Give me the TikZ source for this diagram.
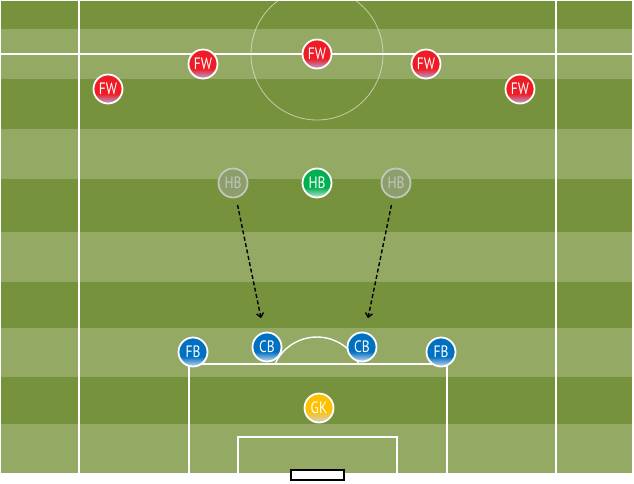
\documentclass[tikz,border=0pt]{standalone}
\usepackage{fontspec}
\newfontfamily\kitfont[FakeStretch=0.82]{PT Sans}
\usetikzlibrary{arrows.meta}

\definecolor{pitchdark}{HTML}{77923C}
\definecolor{pitchlight}{HTML}{93A964}
\definecolor{fwred}{HTML}{EE1C25}
\definecolor{fwlow}{HTML}{B4A6D6}
\definecolor{bkblue}{HTML}{0070C0}
\definecolor{bklow}{HTML}{C6D9F1}
\definecolor{hbgreen}{HTML}{00B050}
\definecolor{hblow}{HTML}{BFE6D6}
\definecolor{gkgold}{HTML}{FFC000}
\definecolor{gklow}{HTML}{D0D0D0}
\definecolor{ghostfill}{HTML}{8C9E6C}
\definecolor{ghostline}{HTML}{C3C7BA}

\pgfdeclareverticalshading{fwshade}{100bp}{color(0bp)=(fwlow); color(25bp)=(fwlow); color(42bp)=(fwred); color(100bp)=(fwred)}
\pgfdeclareverticalshading{bkshade}{100bp}{color(0bp)=(bklow); color(25bp)=(bklow); color(42bp)=(bkblue); color(100bp)=(bkblue)}
\pgfdeclareverticalshading{hbshade}{100bp}{color(0bp)=(hblow); color(25bp)=(hblow); color(42bp)=(hbgreen); color(100bp)=(hbgreen)}
\pgfdeclareverticalshading{gkshade}{100bp}{color(0bp)=(gklow); color(25bp)=(gklow); color(45bp)=(gkgold); color(100bp)=(gkgold)}

\tikzset{
  player/.style={circle,draw=white,line width=1.8pt,minimum size=29pt,inner sep=0pt,
    text=white,font=\kitfont\fontsize{16.5}{16.5}\selectfont},
  fw/.style={player,shade,shading=fwshade},
  bk/.style={player,shade,shading=bkshade},
  hb/.style={player,shade,shading=hbshade},
  gk/.style={player,shade,shading=gkshade},
  ghost/.style={player,fill=ghostfill,draw=ghostline,text=ghostline},
  pitchline/.style={white,line width=1.4pt},
  runline/.style={line width=1.4pt,dash pattern=on 4pt off 2.5pt,-{Straight Barb[length=4pt,width=7pt]},
    shorten <=7pt,shorten >=14pt}
}

\begin{document}
\begin{tikzpicture}[x=1pt,y=-1pt]
  \useasboundingbox (0,0) rectangle (634,483);

  % grass stripes
  \foreach \ya/\yb/\c in {1/29/pitchdark,29/79/pitchlight,79/129/pitchdark,129/179/pitchlight,
      179/232/pitchdark,232/282/pitchlight,282/328/pitchdark,328/377/pitchlight,
      377/424/pitchdark,424/473/pitchlight}
    \path[fill=\c] (1,\ya) rectangle (632,\yb);

  % markings
  \draw[pitchline] (79,1) -- (79,473);
  \draw[pitchline] (556,1) -- (556,473);
  \draw[pitchline] (1,54) -- (632,54);
  \draw[white,opacity=0.55,line width=0.8pt] (317,54) circle [radius=66];
  \draw[pitchline] (189,473) -- (189,364) -- (447,364) -- (447,473);
  \draw[pitchline] (238,473) -- (238,437) -- (397,437) -- (397,473);
  \draw[pitchline] (275,364) arc [start angle=-155.6,end angle=-24.4,radius=46];
  \draw[black,line width=1.5pt,fill=white] (291,470) rectangle (344,480);

  % forwards
  \node[fw] (fw1) at (108,89) {FW};
  \node[fw] (fw2) at (203,64) {FW};
  \node[fw] (fw3) at (317,54) {FW};
  \node[fw] (fw4) at (426,64) {FW};
  \node[fw] (fw5) at (520,89) {FW};

  % half backs
  \node[ghost] (hbL) at (233,183) {HB};
  \node[hb] (hbC) at (317,183) {HB};
  \node[ghost] (hbR) at (396,183) {HB};

  % backs
  \node[bk] (fbL) at (193,352) {FB};
  \node[bk] (cbL) at (267,347) {CB};
  \node[bk] (cbR) at (362,347) {CB};
  \node[bk] (fbR) at (441,352) {FB};
  \node[gk] (gk) at (319,408) {GK};

  \draw[runline] (hbL) -- (cbL);
  \draw[runline] (hbR) -- (cbR);
\end{tikzpicture}
\end{document}
